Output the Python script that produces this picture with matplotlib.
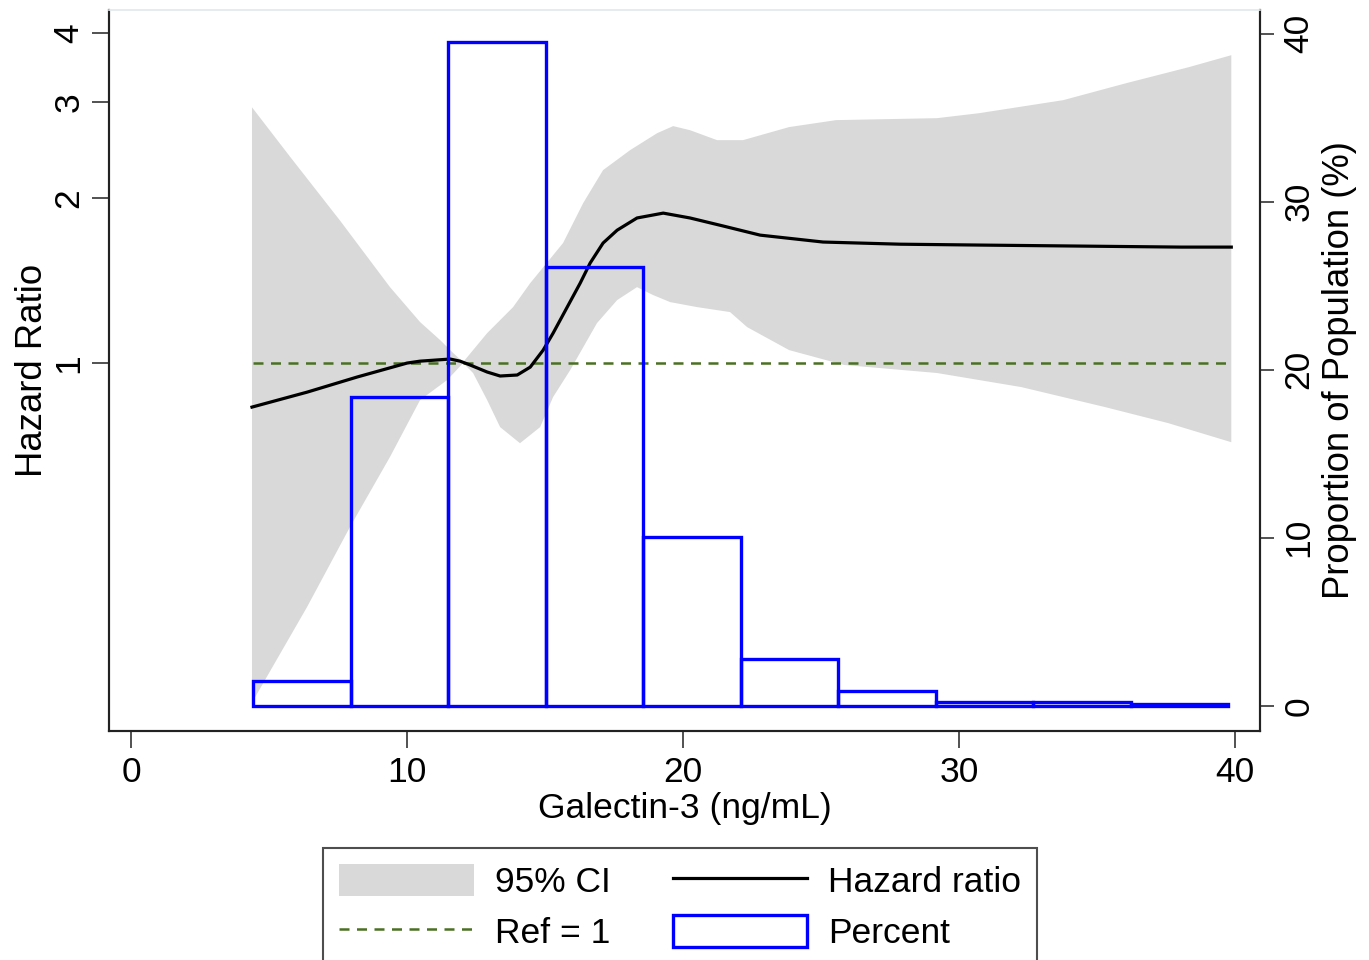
import numpy as np
import matplotlib.pyplot as plt
from matplotlib.patches import Patch
from matplotlib.lines import Line2D

plt.rcParams['font.family'] = ['Liberation Sans', 'DejaVu Sans']

# hazard ratio curve (galectin-3 vs HR)
hr_x = [4.38, 6.38, 8.19, 10.0, 10.47, 11.56, 11.92, 12.28, 12.9, 13.37, 13.99, 14.46,
        14.93, 15.29, 15.8, 16.27, 16.63, 17.1, 17.61, 18.33, 19.28, 20.25, 21.45,
        22.79, 25.07, 27.86, 30.72, 38.04, 39.86]
hr_y = [0.831, 0.885, 0.943, 1.0, 1.008, 1.017, 1.008, 0.992, 0.963, 0.947, 0.951, 0.983,
        1.056, 1.134, 1.265, 1.399, 1.522, 1.656, 1.748, 1.84, 1.878, 1.84, 1.779,
        1.712, 1.663, 1.648, 1.642, 1.628, 1.628]

# upper / lower 95% CI
up_x = [4.38, 5.76, 7.57, 9.38, 10.47, 11.2, 11.67, 12.03, 12.9, 13.84, 14.46, 15.65,
        16.38, 17.1, 18.08, 19.06, 19.64, 20.25, 21.23, 22.17, 23.84, 25.54, 29.2,
        30.72, 33.77, 36.05, 38.33, 39.86]
up_y = [2.93, 2.38, 1.82, 1.376, 1.188, 1.101, 1.043, 1.004, 1.134, 1.265, 1.399, 1.656,
        1.959, 2.25, 2.447, 2.628, 2.707, 2.661, 2.552, 2.552, 2.696, 2.776, 2.799,
        2.858, 3.019, 3.242, 3.469, 3.647]
lo_x = [4.38, 6.38, 7.93, 9.38, 10.47, 11.45, 12.03, 12.39, 12.9, 13.37, 14.09, 14.82,
        15.29, 15.91, 16.88, 17.61, 18.33, 18.91, 19.53, 20.51, 21.7, 22.32, 23.84,
        25.83, 29.2, 32.25, 35.29, 37.57, 39.86]
lo_y = [0.24, 0.359, 0.502, 0.674, 0.856, 0.931, 1.0, 0.959, 0.856, 0.764, 0.714, 0.764,
        0.867, 0.971, 1.183, 1.303, 1.376, 1.331, 1.292, 1.265, 1.239, 1.163, 1.056,
        0.992, 0.959, 0.904, 0.831, 0.777, 0.717]

# histogram of the population
bin_edges = [4.42, 7.95, 11.48, 15.02, 18.55, 22.08, 25.62, 29.15, 32.68, 36.22, 39.75]
percent = [1.45, 18.4, 39.5, 26.1, 10.05, 2.8, 0.9, 0.22, 0.22, 0.08]

gray = '#d9d9d9'
blue = '#0000ff'
green = '#4a7023'
fs = 25.5
fs_y = 26.3

fig = plt.figure(figsize=(13.69, 9.6), dpi=100)
ax = fig.add_axes([109/1369, 1 - 731/960, (1260-109)/1369, (731-10)/960])

# CI band as a polygon: upper forward, lower reversed
ax.fill(up_x + lo_x[::-1], up_y + lo_y[::-1], color=gray, lw=0, zorder=1)
ax.plot(hr_x, hr_y, color='black', lw=2.3, zorder=3, solid_joinstyle='round')
ax.axhline(1, xmin=(4.4 + 0.8) / 41.7, xmax=(39.86 + 0.8) / 41.7,
           color=green, ls=(0, (4, 3)), lw=1.8, zorder=2)

ax.set_yscale('log')
ax.set_ylim(0.213, 4.41)
ax.set_xlim(-0.8, 40.9)
ax.set_yticks([1, 2, 3, 4])
ax.set_yticklabels(['1', '2', '3', '4'])
ax.yaxis.set_minor_locator(plt.NullLocator())
ax.set_xticks([0, 10, 20, 30, 40])
ax.tick_params(axis='both', direction='out', length=12, width=1.2, labelsize=fs, color='#333333')
ax.tick_params(axis='y', pad=5)
ax.tick_params(axis='x', pad=6)
plt.setp(ax.get_yticklabels(), rotation=90, va='center')
ax.set_xlabel('Galectin-3 (ng/mL)', fontsize=fs, labelpad=2)
ax.set_ylabel('Hazard Ratio', fontsize=fs_y, labelpad=2)

ax2 = ax.twinx()
widths = np.diff(bin_edges)
ax2.bar(bin_edges[:-1], percent, width=widths, align='edge', fill=False,
        edgecolor=blue, lw=2.4, zorder=4)
ax2.set_ylim(-1.5, 41.4)
ax2.set_yticks([0, 10, 20, 30, 40])
ax2.tick_params(axis='y', direction='out', length=10, width=1.2, labelsize=fs, pad=6, color='#333333')
plt.setp(ax2.get_yticklabels(), rotation=90, va='center')
ax2.set_ylabel('Proportion of Population (%)', fontsize=fs_y, labelpad=5)

for a in (ax, ax2):
    for side in ('left', 'right', 'bottom'):
        a.spines[side].set_linewidth(1.5)
        a.spines[side].set_color('#222222')
    a.spines['top'].set_color('#e6ecee')
    a.spines['top'].set_linewidth(1.2)

handles = [Patch(facecolor=gray, edgecolor='none'),
           Line2D([], [], color=green, ls=(0, (4, 3)), lw=1.8),
           Line2D([], [], color='black', lw=2.3),
           Patch(facecolor='white', edgecolor=blue, lw=2.4)]
labels = ['95% CI', 'Ref = 1', 'Hazard ratio', 'Percent']
leg = fig.legend(handles, labels, ncol=2, loc='upper left',
                 bbox_to_anchor=(323/1369, 1 - 848/960), fontsize=fs,
                 frameon=True, fancybox=False, edgecolor='#222222',
                 handlelength=3.8, handleheight=1.0, handletextpad=0.6,
                 columnspacing=1.75, labelspacing=0.45, borderpad=0.45,
                 borderaxespad=0)
leg.get_frame().set_linewidth(1.5)

fig.savefig('out.png', dpi=100)
